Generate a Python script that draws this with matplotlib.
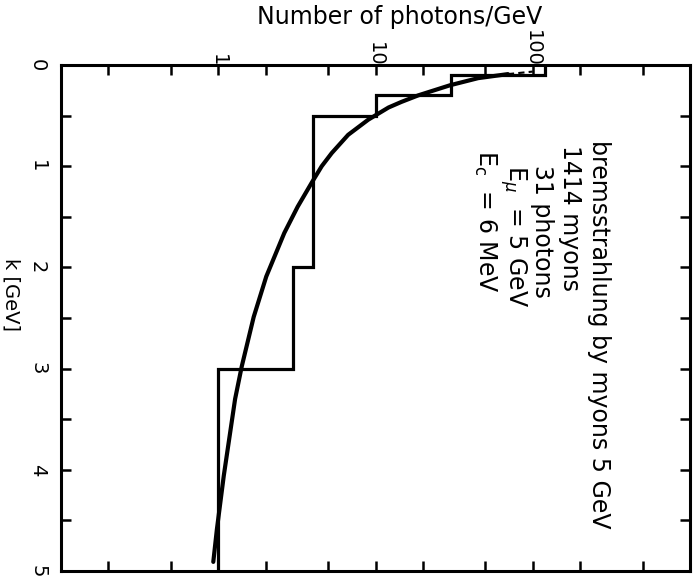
import matplotlib
matplotlib.use("Agg")
import matplotlib.pyplot as plt
import numpy as np

# histogram: bin edges in k [GeV] and photons/GeV per bin
k_edges = [0.0, 0.1, 0.3, 0.5, 2.0, 3.0, 5.0]
n_hist = [120, 30, 10, 4, 3, 1]

# fitted curve
k_curve = [0.09, 0.13, 0.20, 0.30, 0.365, 0.42, 0.54, 0.69, 0.87, 1.00, 1.16,
           1.40, 1.66, 2.09, 2.49, 2.98, 3.30, 4.06, 4.59, 4.91]
n_curve = [69.5, 44.9, 29.8, 18.7, 14.6, 12.1, 9.0, 6.7, 5.27, 4.55, 3.94,
           3.2, 2.63, 2.02, 1.68, 1.41, 1.28, 1.084, 0.98, 0.93]
# short dashed end of the curve near k = 0
k_dash = [0.09, 0.065]
n_dash = [69.5, 100]

x_major = [1, 10, 100]
x_minor = [0.2, 0.5, 2, 5, 20, 50, 200, 500]
k_major = [0, 1, 2, 3, 4, 5]
k_minor = [0.5, 1.5, 2.5, 3.5, 4.5]

text_lines = ["bremsstrahlung by myons 5 GeV", "1414 myons", "31 photons",
              r"E$_\mu$  = 5 GeV", r"E$_{\rm c}$  = 6 MeV"]

W, H = 699, 581
fig = plt.figure(figsize=(W / 100, H / 100), dpi=100)
fig.patch.set_facecolor("white")

left, right, top, bottom = 61, 690, 65, 571
ax = fig.add_axes([left / W, 1 - bottom / H, (right - left) / W, (bottom - top) / H])
ax.set_xscale("log")
ax.set_xlim(0.1, 1000)
ax.set_ylim(5, 0)

for s in ax.spines.values():
    s.set_linewidth(2.2)

# histogram, drawn sideways
ax.stairs(n_hist, k_edges, orientation="horizontal", baseline=None,
          color="black", linewidth=2.3)
ax.plot(n_curve, k_curve, color="black", linewidth=3.0, solid_capstyle="round",
        solid_joinstyle="round")
ax.plot(n_dash, k_dash, color="black", linewidth=1.5, linestyle=(0, (3, 2)))

# ticks
ax.set_xticks(x_major)
ax.set_xticks(x_minor, minor=True)
ax.set_xticklabels([str(v) for v in x_major], rotation=-90)
ax.set_yticks(k_major)
ax.set_yticks(k_minor, minor=True)
ax.set_yticklabels([str(v) for v in k_major], rotation=-90, va="center")
ax.tick_params(which="both", direction="in", top=True, bottom=True,
               left=True, right=True, labeltop=True, labelbottom=False,
               length=7, width=1.8, labelsize=14)
ax.tick_params(axis="x", which="major", pad=-1)
ax.tick_params(axis="y", which="major", pad=10)

# labels
fig.text(400 / W, 1 - 24 / H, "Number of photons/GeV", ha="center",
         va="baseline", fontsize=17)
fig.text(11 / W, 1 - 295 / H, "k [GeV]", rotation=-90, ha="center", va="center",
         fontsize=14)

line_x = [599, 570, 542, 513, 485]
line_top = [140, 145, 165, 165, 150]
for s, xx, yy in zip(text_lines, line_x, line_top):
    fig.text(xx / W, 1 - yy / H, s, rotation=-90, ha="center", va="top",
             fontsize=17)

fig.savefig("out.png", dpi=100, facecolor="white")
